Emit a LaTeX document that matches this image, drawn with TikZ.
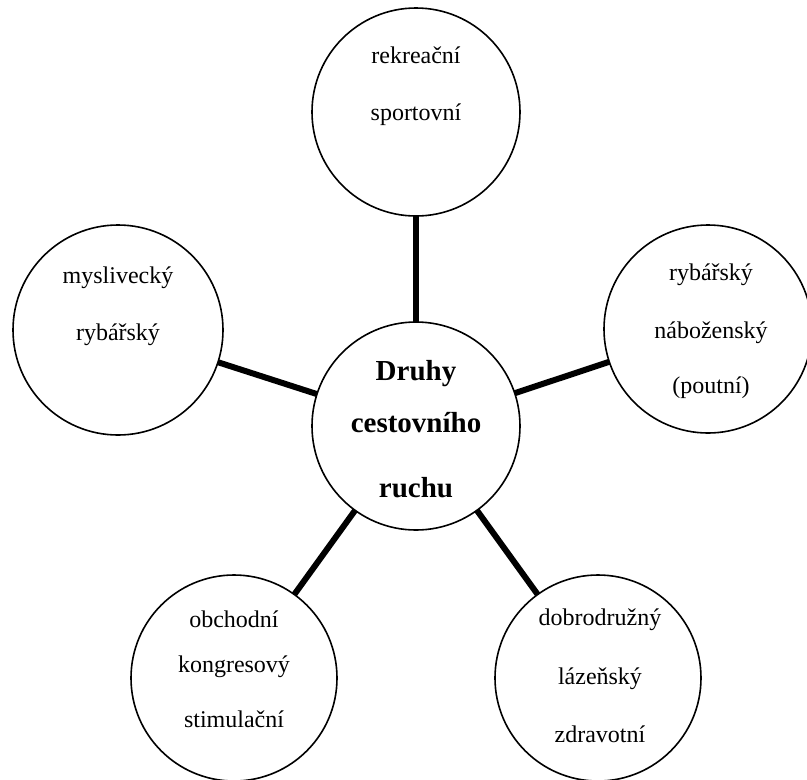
\documentclass[tikz,border=0pt]{standalone}
\usepackage{fontspec}
\setmainfont{Liberation Serif}
\begin{document}
\begin{tikzpicture}[x=1pt,y=-1pt,
  bubble/.style={circle,draw,line width=1.6pt,inner sep=0pt,outer sep=0pt,minimum size=#1},
  bubble/.default=208,
  lbl/.style={anchor=base,inner sep=0pt,font=\fontsize{24}{28}\selectfont},
  clbl/.style={anchor=base,inner sep=0pt,font=\fontsize{29}{34}\selectfont\bfseries},
  link/.style={line width=6pt}]
\useasboundingbox (0,0) rectangle (807,780);
\node[bubble] (c) at (416,426) {};
\node[bubble] (t) at (416,112) {};
\node[bubble=210] (l) at (118,330) {};
\node[bubble] (r) at (708,329) {};
\node[bubble=206] (bl) at (234,678) {};
\node[bubble=206] (br) at (598,678) {};
\draw[link] (c) -- (t);
\draw[link] (c) -- (l);
\draw[link] (c) -- (r);
\draw[link] (c) -- (bl);
\draw[link] (c) -- (br);
\node[clbl] (c1) at (416,380) {Druhy};
\node[clbl] (c2) at (416,432) {cestovního};
\node[clbl] (c3) at (416,497) {ruchu};
\node[lbl] (t1) at (416,63) {rekreační};
\node[lbl] (t2) at (416,120) {sportovní};
\node[lbl] (l1) at (118,283) {myslivecký};
\node[lbl] (l2) at (118,340) {rybářský};
\node[lbl] (r1) at (711,280) {rybářský};
\node[lbl] (r2) at (711,338) {náboženský};
\node[lbl] (r3) at (711,393) {(poutní)};
\node[lbl] (b1) at (234,627) {obchodní};
\node[lbl] (b2) at (234,672) {kongresový};
\node[lbl] (b3) at (234,727) {stimulační};
\node[lbl] (d1) at (600,625) {dobrodružný};
\node[lbl] (d2) at (600,684) {lázeňský};
\node[lbl] (d3) at (600,742) {zdravotní};
\end{tikzpicture}
\end{document}
